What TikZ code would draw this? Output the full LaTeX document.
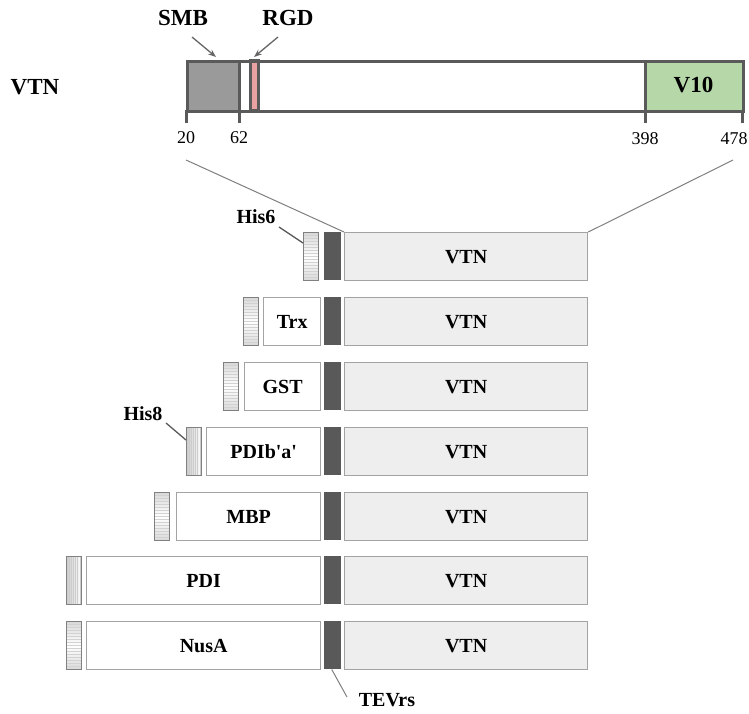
\documentclass[tikz,border=0pt]{standalone}
\usepackage{fontspec}
\setmainfont{Liberation Serif}
\usetikzlibrary{arrows.meta}
\definecolor{bardark}{HTML}{5A5A5A}
\definecolor{smbgray}{HTML}{9A9A9A}
\definecolor{rgdpink}{HTML}{E9A1A1}
\definecolor{vgreen}{HTML}{B6D7A8}
\definecolor{vtnfill}{HTML}{EEEEEE}
\definecolor{rowedge}{HTML}{A3A3A3}
\definecolor{tevdark}{HTML}{595959}
\definecolor{zoomline}{HTML}{7F7F7F}
\definecolor{ptrgray}{HTML}{666666}
\tikzset{
  rowbox/.style={draw=rowedge, line width=1.3pt, fill=white, anchor=north west, minimum height=48pt, inner sep=0pt, font=\bfseries\fontsize{20}{24}\selectfont},
  vtnbox/.style={rowbox, fill=vtnfill, minimum width=243pt},
  tevbox/.style={fill=tevdark, anchor=north west, minimum width=17pt, minimum height=48pt, inner sep=0pt},
  tagh/.style={draw=gray, line width=1.2pt, anchor=north west, minimum width=15pt, minimum height=48pt, inner sep=0pt,
    top color=gray!30, bottom color=gray!30, middle color=white,
    path picture={\foreach \k in {1,...,16}{\draw[gray!35, line width=0.5pt] ([yshift=-\k*3pt]path picture bounding box.north west) -- ([yshift=-\k*3pt]path picture bounding box.north east);}}},
  tagv/.style={draw=gray, line width=1.2pt, anchor=north west, minimum width=15pt, minimum height=48pt, inner sep=0pt,
    left color=gray!40, right color=white,
    path picture={\foreach \k in {1,...,6}{\draw[gray!40, line width=0.4pt] ([xshift=\k*2.2pt]path picture bounding box.north west) -- ([xshift=\k*2.2pt]path picture bounding box.south west);}}},
  lbl/.style={font=\bfseries\fontsize{20}{24}\selectfont, inner sep=0pt},
  toplbl/.style={font=\bfseries\fontsize{23}{27}\selectfont, inner sep=0pt},
  num/.style={font=\fontsize{18}{22}\selectfont, inner sep=0pt},
  ptr/.style={draw=ptrgray, line width=1.3pt, -{Stealth[length=8pt,width=6pt]}},
  thin/.style={draw=zoomline, line width=1pt},
  callout/.style={draw=bardark, line width=1.3pt},
}
\begin{document}
\begin{tikzpicture}[x=1pt,y=-1pt]
\useasboundingbox (0,0) rectangle (749,713);
% ---- top bar ----
\node[toplbl] (vtnlbl) at (35,87) {VTN};
\fill[smbgray] (186,60) rectangle (239,110);
\fill[vgreen] (645,60) rectangle (742,110);
\node[draw=bardark, line width=2.5pt, fill=rgdpink, minimum width=8pt, minimum height=50pt, inner sep=0pt] (rgdbox) at (254.5,85) {};
\node[draw=bardark, line width=3pt, minimum width=556pt, minimum height=50pt, inner sep=0pt, anchor=north west] (bar) at (186,60) {};
\draw[bardark, line width=3pt] (239,60) -- (239,110);
\draw[bardark, line width=3pt] (645,60) -- (645,110);
\node[toplbl] (v10) at (693.5,85) {V10};
\foreach \xx in {186,239,645,742}{\draw[bardark, line width=3pt] (\xx,110) -- (\xx,123);}
\node[num] (n20) at (186,138) {20};
\node[num] (n62) at (239,138) {62};
\node[num] (n398) at (645,139) {398};
\node[num] (n478) at (734,139) {478};
\node[toplbl] (smb) at (183,18) {SMB};
\node[toplbl] (rgd) at (288,18) {RGD};
\coordinate (smbtip) at (216,57);
\coordinate (rgdtip) at (254,57);
\coordinate (smbtail) at (192,37);
\coordinate (rgdtail) at (278,37);
\draw[ptr] (smbtail) -- (smbtip);
\draw[ptr] (rgdtail) -- (rgdtip);
% ---- rows ----
% row 1
\node[tagh] (t1) at (303,232) {};
\node[tevbox] (e1) at (324,232) {};
\node[vtnbox] (v1) at (344,232) {VTN};
% row 2
\node[tagh] (t2) at (243,297) {};
\node[rowbox, minimum width=57pt] (f2) at (263,297) {Trx};
\node[tevbox] (e2) at (324,297) {};
\node[vtnbox] (v2) at (344,297) {VTN};
% row 3
\node[tagh] (t3) at (223,362) {};
\node[rowbox, minimum width=76pt] (f3) at (244,362) {GST};
\node[tevbox] (e3) at (324,362) {};
\node[vtnbox] (v3) at (344,362) {VTN};
% row 4
\node[tagv] (t4) at (186,427) {};
\node[rowbox, minimum width=114pt] (f4) at (206,427) {PDIb\textquotesingle a\textquotesingle};
\node[tevbox] (e4) at (324,427) {};
\node[vtnbox] (v4) at (344,427) {VTN};
% row 5
\node[tagh] (t5) at (154,492) {};
\node[rowbox, minimum width=144pt] (f5) at (176,492) {MBP};
\node[tevbox] (e5) at (324,492) {};
\node[vtnbox] (v5) at (344,492) {VTN};
% row 6
\node[tagv] (t6) at (66,556) {};
\node[rowbox, minimum width=234pt] (f6) at (86,556) {PDI};
\node[tevbox] (e6) at (324,556) {};
\node[vtnbox] (v6) at (344,556) {VTN};
% row 7
\node[tagh] (t7) at (66,621) {};
\node[rowbox, minimum width=234pt] (f7) at (86,621) {NusA};
\node[tevbox] (e7) at (324,621) {};
\node[vtnbox] (v7) at (344,621) {VTN};
% ---- zoom lines ----
\coordinate (zl) at (186,160);
\coordinate (zr) at (733,160);
\draw[thin] (zl) -- (v1.north west);
\draw[thin] (zr) -- (v1.north east);
% ---- callouts ----
\node[lbl] (his6) at (256,217) {His6};
\coordinate (his6s) at (279,227);
\draw[callout] (his6s) -- ([yshift=-11pt]t1.north west);
\node[lbl] (his8) at (143,414) {His8};
\coordinate (his8s) at (166,423);
\draw[callout] (his8s) -- ([yshift=-13pt]t4.north west);
\node[lbl] (tev) at (387,700) {TEVrs};
\coordinate (tevs) at (347,697);
\draw[thin] ([xshift=-1pt]e7.south) -- (tevs);
\end{tikzpicture}
\end{document}
